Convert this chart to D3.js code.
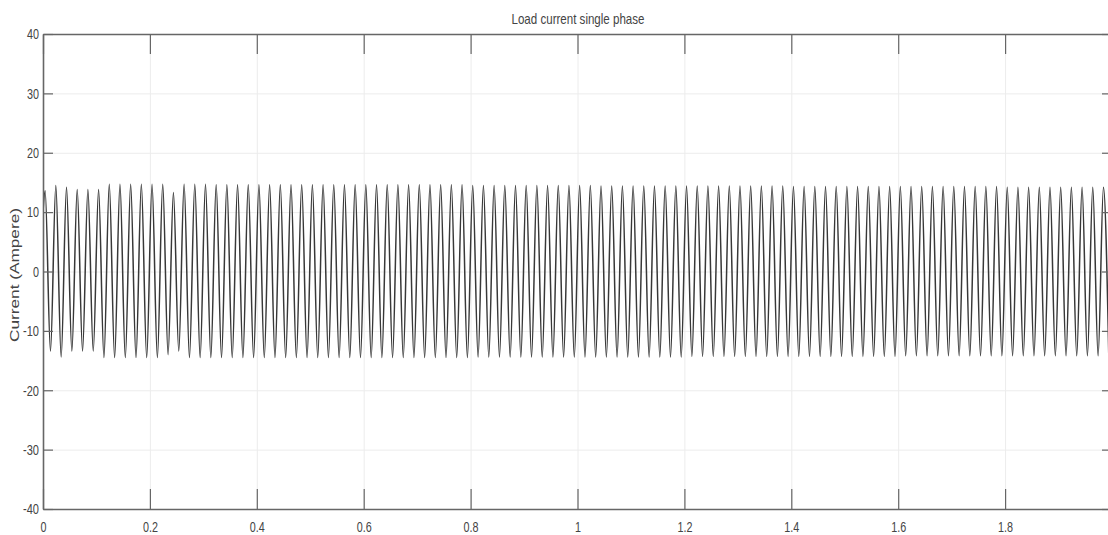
<!DOCTYPE html>
<html>
<head>
<meta charset="utf-8">
<script src="https://cdn.jsdelivr.net/npm/d3@7"></script>
<style>
  body { margin: 0; background: #fff; }
  svg { display: block; overflow: hidden; }
  text { font-family: "Liberation Sans", Arial, sans-serif; fill: #444; }
</style>
</head>
<body>
<div id="plot"></div>
<script>
// Chart values
const title = "Load current single phase";
const yLabel = "Current (Ampere)";
const xTicks = [0, 0.2, 0.4, 0.6, 0.8, 1, 1.2, 1.4, 1.6, 1.8];
const yTicks = [-40, -30, -20, -10, 0, 10, 20, 30, 40];

// 50 Hz load current: first positive peak time and period (s)
const firstPeak = 0.004;
const period = 0.02;
const startValue = 10.0;

// positive peak of each cycle (A)
const posPeaks = [
    13.6, 14.5, 14.2, 13.8, 13.8, 13.8, 14.7, 14.7, 14.7, 14.7,
    14.7, 14.7, 13.3, 14.7, 14.7, 14.7, 14.6, 14.6, 14.6, 14.6,
    14.6, 14.6, 14.6, 14.6, 14.6, 14.6, 14.6, 14.6, 14.6, 14.6,
    14.6, 14.6, 14.6, 14.6, 14.6, 14.6, 14.6, 14.6, 14.6, 14.6,
    14.5, 14.5, 14.5, 14.5, 14.5, 14.5, 14.5, 14.5, 14.5, 14.5,
    14.5, 14.5, 14.4, 14.4, 14.4, 14.4, 14.4, 14.4, 14.4, 14.4,
    14.4, 14.4, 14.4, 14.4, 14.4, 14.4, 14.4, 14.4, 14.4, 14.4,
    14.3, 14.3, 14.3, 14.3, 14.3, 14.3, 14.3, 14.3, 14.3, 14.3,
    14.3, 14.3, 14.3, 14.3, 14.3, 14.3, 14.3, 14.3, 14.3, 14.3,
    14.2, 14.2, 14.2, 14.2, 14.2, 14.2, 14.2, 14.2, 14.2, 14.2
];
// negative peak of each cycle (A)
const negPeaks = [
    -13.4, -14.4, -13.4, -13.4, -13.4, -14.5, -14.5, -14.5, -14.5, -14.5,
    -14.5, -14.0, -13.4, -14.5, -14.5, -14.5, -14.5, -14.5, -14.5, -14.5,
    -14.5, -14.5, -14.5, -14.5, -14.5, -14.5, -14.5, -14.5, -14.5, -14.5,
    -14.5, -14.5, -14.5, -14.5, -14.5, -14.5, -14.5, -14.5, -14.5, -14.5,
    -14.4, -14.4, -14.4, -14.4, -14.4, -14.4, -14.4, -14.4, -14.4, -14.4,
    -14.4, -14.4, -14.4, -14.4, -14.4, -14.4, -14.4, -14.4, -14.4, -14.4,
    -14.3, -14.3, -14.3, -14.3, -14.3, -14.3, -14.3, -14.3, -14.3, -14.3,
    -14.3, -14.3, -14.3, -14.3, -14.3, -14.3, -14.3, -14.3, -14.3, -14.3,
    -14.2, -14.2, -14.2, -14.2, -14.2, -14.2, -14.2, -14.2, -14.2, -14.2,
    -14.2, -14.2, -14.2, -14.2, -14.2, -14.2, -14.2, -14.2, -14.2, -14.2
];

const width = 1108;
const height = 535;
const margin = { top: 34, right: -4, bottom: 26, left: 43 };

const svg = d3.select("#plot")
    .append("svg")
    .attr("width", width)
    .attr("height", height);

const xScale = d3.scaleLinear()
    .domain([0, 2])
    .range([margin.left, width - margin.right]);

const yScale = d3.scaleLinear()
    .domain([-40, 40])
    .range([height - margin.bottom, margin.top]);

const plotW = width - margin.right - margin.left;
const plotH = height - margin.bottom - margin.top;

// Grid lines
svg.append("g")
    .attr("transform", `translate(0,${height - margin.bottom})`)
    .call(d3.axisBottom(xScale).tickValues(xTicks).tickSize(-plotH).tickFormat(""))
    .call((g) => g.select(".domain").remove())
    .call((g) => g.selectAll("line").attr("stroke", "#ececec"));

svg.append("g")
    .attr("transform", `translate(${margin.left},0)`)
    .call(d3.axisLeft(yScale).tickValues(yTicks).tickSize(-plotW).tickFormat(""))
    .call((g) => g.select(".domain").remove())
    .call((g) => g.selectAll("line").attr("stroke", "#ececec"));

// Waveform: alternating peaks joined by a monotone curve
const points = [{ t: 0, v: startValue }];
posPeaks.forEach((p, i) => {
    points.push({ t: firstPeak + i * period, v: p });
    points.push({ t: firstPeak + i * period + period / 2, v: negPeaks[i] });
});

svg.append("clipPath")
    .attr("id", "clip")
    .append("rect")
    .attr("x", margin.left)
    .attr("y", margin.top)
    .attr("width", plotW)
    .attr("height", plotH);

svg.append("path")
    .datum(points)
    .attr("clip-path", "url(#clip)")
    .attr("fill", "none")
    .attr("stroke", "#383838")
    .attr("stroke-width", 1.5)
    .attr("d", d3.line()
        .curve(d3.curveMonotoneX)
        .x((d) => xScale(d.t))
        .y((d) => yScale(d.v)));

// width of a condensed label
function labelLen(s) {
    let w = 0;
    for (const c of s) w += c === "." ? 3 : c === "-" ? 4 : 6;
    return w;
}

function styleAxis(g) {
    g.select(".domain").attr("stroke", "#666").attr("stroke-width", 1.6);
    g.selectAll(".tick line").attr("stroke", "#666").attr("stroke-width", 1.2);
    g.selectAll("text")
        .style("font-size", "15px")
        .attr("fill", "#555")
        .attr("textLength", function () { return labelLen(this.textContent); })
        .attr("lengthAdjust", "spacingAndGlyphs");
}

const fmt = (d) => String(d);

// Axes (box with inward ticks)
svg.append("g")
    .attr("transform", `translate(0,${height - margin.bottom})`)
    .call(d3.axisBottom(xScale).tickValues(xTicks).tickFormat(fmt)
        .tickSizeInner(-20).tickSizeOuter(0).tickPadding(12))
    .call(styleAxis);

svg.append("g")
    .attr("transform", `translate(0,${margin.top})`)
    .call(d3.axisTop(xScale).tickValues(xTicks).tickSizeInner(-20).tickSizeOuter(0).tickFormat(""))
    .call(styleAxis);

svg.append("g")
    .attr("transform", `translate(${margin.left},0)`)
    .call(d3.axisLeft(yScale).tickValues(yTicks).tickFormat(fmt)
        .tickSizeInner(-10).tickSizeOuter(0).tickPadding(4))
    .call(styleAxis);

svg.append("g")
    .attr("transform", `translate(${width - margin.right},0)`)
    .call(d3.axisRight(yScale).tickValues(yTicks).tickSizeInner(-10).tickSizeOuter(0).tickFormat(""))
    .call(styleAxis);

// Title and y label
svg.append("text")
    .attr("x", 578)
    .attr("y", 24)
    .attr("text-anchor", "middle")
    .attr("textLength", 133)
    .attr("lengthAdjust", "spacingAndGlyphs")
    .style("font-size", "15px")
    .attr("fill", "#333")
    .text(title);

svg.append("text")
    .attr("transform", "rotate(-90)")
    .attr("x", -275)
    .attr("y", 19)
    .attr("text-anchor", "middle")
    .attr("textLength", 134)
    .attr("lengthAdjust", "spacingAndGlyphs")
    .style("font-size", "13px")
    .attr("fill", "#555")
    .text(yLabel);
</script>
</body>
</html>
